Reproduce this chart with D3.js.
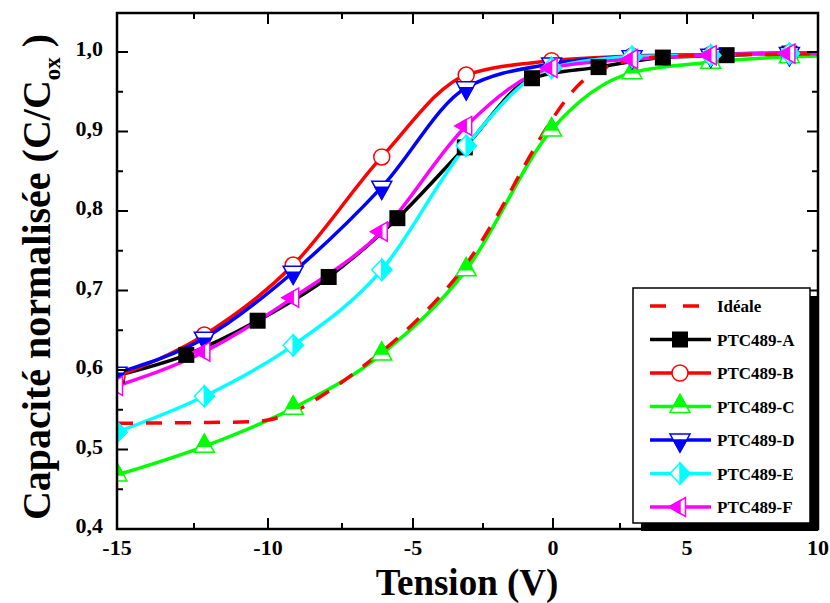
<!DOCTYPE html>
<html><head><meta charset="utf-8">
<script src="https://cdn.jsdelivr.net/npm/d3@7"></script>
<style>body{margin:0;background:#fff}svg{display:block}</style>
</head><body>
<script>
// ---------- data ----------
const seriesNames = ["Idéale","PTC489-A","PTC489-B","PTC489-C","PTC489-D","PTC489-E","PTC489-F"];
const idealV = [-15,-12,-10.5,-10,-9,-8,-7,-6,-5,-4,-3,-2,-1,0,1,2,3,4,6,8,10];
const idealC = [0.533,0.534,0.535,0.537,0.550,0.572,0.598,0.626,0.658,0.694,0.738,0.794,0.858,0.917,0.960,0.981,0.990,0.994,0.996,0.997,0.998];
const aV = [-15,-12.75,-10.35,-7.95,-5.55,-3.15,-0.75,1.7,4.1,6.5,8.9,10];
const aC = [0.593,0.619,0.662,0.717,0.791,0.880,0.967,0.981,0.993,0.996,0.998,0.998];
const commonV = [-15,-12.15,-9.15,-6.1,-3.1,-0.05,2.95,5.9,8.9,10];
const bC = [0.592,0.644,0.732,0.868,0.971,0.989,0.995,0.997,0.999,0.999];
const cC = [0.468,0.504,0.552,0.620,0.726,0.902,0.974,0.987,0.994,0.995];
const dC = [0.596,0.640,0.723,0.830,0.955,0.985,0.994,0.996,0.998,0.998];
const eC = [0.522,0.567,0.631,0.726,0.882,0.980,0.994,0.996,0.998,0.998];
const fC = [0.580,0.623,0.691,0.774,0.907,0.980,0.991,0.996,0.998,0.998];
const xTicks = [-15,-10,-5,0,5,10];
const xMinorTicks = [-12.5,-7.5,-2.5,2.5,7.5];
const yTicks = [0.4,0.5,0.6,0.7,0.8,0.9,1.0];
const yMinorTicks = [0.45,0.55,0.65,0.75,0.85,0.95];

// ---------- setup ----------
const W = 830, H = 603;
const L = 117, R = 818, T = 13, B = 529;
const svg = d3.select("body").append("svg").attr("width", W).attr("height", H);
const FONT = "'Liberation Serif', 'Times New Roman', serif";

// x axis of the original is slightly non-uniform; polylinear scale calibrated on its ticks
const x = d3.scaleLinear()
  .domain([-15,-12.5,-10,-7.5,-5,-2.5,0,2.5,5,7.5,10])
  .range([117,194,268,342,413,483,553,620,687,753,818]);
const y = d3.scaleLinear().domain([0.4, 1.0]).range([529, 52]);

svg.append("defs").append("clipPath").attr("id","plotclip")
  .append("rect").attr("x", L).attr("y", T).attr("width", R-L).attr("height", B-T);

const series = [
  {name: seriesNames[1], V: aV, C: aC, color: "#000000", sym: "square"},
  {name: seriesNames[2], V: commonV, C: bC, color: "#ff0000", sym: "circle"},
  {name: seriesNames[3], V: commonV, C: cC, color: "#00ff00", sym: "up"},
  {name: seriesNames[4], V: commonV, C: dC, color: "#0000ff", sym: "down"},
  {name: seriesNames[5], V: commonV, C: eC, color: "#00ffff", sym: "diamond"},
  {name: seriesNames[6], V: commonV, C: fC, color: "#ff00ff", sym: "left"}
];
const ideal = {name: seriesNames[0], V: idealV, C: idealC, color: "#ff0000"};

const line = d3.line().x(d => x(d[0])).y(d => y(d[1])).curve(d3.curveMonotoneX);
const plot = svg.append("g").attr("clip-path", "url(#plotclip)");

series.forEach(s => {
  plot.append("path").datum(s.V.map((v,i)=>[v, s.C[i]]))
    .attr("d", line).attr("fill","none").attr("stroke", s.color)
    .attr("stroke-width", 3.5).attr("stroke-linejoin","round");
});
plot.append("path").datum(ideal.V.map((v,i)=>[v, ideal.C[i]]))
  .attr("d", line).attr("fill","none").attr("stroke", ideal.color)
  .attr("stroke-width", 3.5).attr("stroke-dasharray","16,13");

function marker(g, sym, color) {
  const sw = 1.5;
  if (sym === "square") {
    g.append("rect").attr("x",-8).attr("y",-8).attr("width",16).attr("height",16).attr("fill",color);
  } else if (sym === "circle") {
    g.append("circle").attr("r",8).attr("fill","#fff").attr("stroke",color).attr("stroke-width",sw);
  } else if (sym === "up") {
    g.append("polygon").attr("points","0,-12 10,6 -10,6").attr("fill","#fff").attr("stroke",color).attr("stroke-width",sw);
    g.append("polygon").attr("points","0,-12 6.67,0 -6.67,0").attr("fill",color).attr("stroke",color).attr("stroke-width",sw);
  } else if (sym === "down") {
    g.append("polygon").attr("points","0,12 10,-6 -10,-6").attr("fill","#fff").attr("stroke",color).attr("stroke-width",sw);
    g.append("polygon").attr("points","0,12 6.67,0 -6.67,0").attr("fill",color).attr("stroke",color).attr("stroke-width",sw);
  } else if (sym === "diamond") {
    g.append("polygon").attr("points","0,-10.5 10,0 0,10.5 -10,0").attr("fill","#fff").attr("stroke",color).attr("stroke-width",sw);
    g.append("polygon").attr("points","0,-10.5 10,0 0,10.5").attr("fill",color).attr("stroke",color).attr("stroke-width",sw);
  } else if (sym === "left") {
    g.append("polygon").attr("points","-11,0 5.5,-9.5 5.5,9.5").attr("fill","#fff").attr("stroke",color).attr("stroke-width",sw);
    g.append("polygon").attr("points","-11,0 0,-6.33 0,6.33").attr("fill",color).attr("stroke",color).attr("stroke-width",sw);
  }
}

series.forEach(s => {
  s.V.forEach((v,i) => {
    if (v >= 10) return;
    marker(plot.append("g").attr("transform", `translate(${x(v)},${y(s.C[i])})`), s.sym, s.color);
  });
});

// ---------- axes / frame ----------
const ax = svg.append("g").attr("stroke","#000").attr("stroke-width",2);
xTicks.forEach(t => {
  ax.append("line").attr("x1",x(t)).attr("x2",x(t)).attr("y1",B).attr("y2",B-11);
  ax.append("line").attr("x1",x(t)).attr("x2",x(t)).attr("y1",T).attr("y2",T+11);
});
xMinorTicks.forEach(t => {
  ax.append("line").attr("x1",x(t)).attr("x2",x(t)).attr("y1",B).attr("y2",B-6);
  ax.append("line").attr("x1",x(t)).attr("x2",x(t)).attr("y1",T).attr("y2",T+6);
});
yTicks.forEach(t => {
  ax.append("line").attr("x1",L).attr("x2",L+11).attr("y1",y(t)).attr("y2",y(t));
  ax.append("line").attr("x1",R).attr("x2",R-11).attr("y1",y(t)).attr("y2",y(t));
});
yMinorTicks.forEach(t => {
  ax.append("line").attr("x1",L).attr("x2",L+6).attr("y1",y(t)).attr("y2",y(t));
  ax.append("line").attr("x1",R).attr("x2",R-6).attr("y1",y(t)).attr("y2",y(t));
});
svg.append("rect").attr("x",L).attr("y",T).attr("width",R-L).attr("height",B-T)
  .attr("fill","none").attr("stroke","#000").attr("stroke-width",2.5);

const fmt = v => d3.format(".1f")(v).replace(".", ",");
svg.append("g").selectAll("text").data(xTicks).join("text")
  .attr("x", d => x(d)).attr("y", 555).attr("text-anchor","middle")
  .attr("font-family",FONT).attr("font-weight","bold").attr("font-size",22)
  .text(d => String(d));
svg.append("g").selectAll("text").data(yTicks).join("text")
  .attr("x", 103).attr("y", d => y(d) + 4).attr("text-anchor","end")
  .attr("font-family",FONT).attr("font-weight","bold").attr("font-size",22)
  .text(d => fmt(d));

svg.append("text").attr("x", 467).attr("y", 595).attr("text-anchor","middle")
  .attr("font-family",FONT).attr("font-weight","bold").attr("font-size",37)
  .text("Tension (V)");

const yl = svg.append("text").attr("transform","translate(50,277) rotate(-90)")
  .attr("text-anchor","middle").attr("font-family",FONT).attr("font-weight","bold").attr("font-size",40);
yl.append("tspan").text("Capacité normalisée (C/C");
yl.append("tspan").attr("font-size",23).attr("dy",10).text("ox");
yl.append("tspan").attr("dy",-10).text(" )");

// ---------- legend ----------
svg.append("rect").attr("x",641).attr("y",296).attr("width",177).attr("height",235).attr("fill","#000");
svg.append("rect").attr("x",633).attr("y",288).attr("width",177).attr("height",235)
  .attr("fill","#fff").attr("stroke","#000").attr("stroke-width",1.5);
const legRows = [ideal].concat(series);
legRows.forEach((s,i) => {
  const ry = 306 + i*33.5;
  const g = svg.append("g");
  if (i === 0) {
    g.append("line").attr("x1",650).attr("x2",711).attr("y1",ry).attr("y2",ry)
      .attr("stroke",s.color).attr("stroke-width",3.5).attr("stroke-dasharray","16,17");
  } else {
    g.append("line").attr("x1",650).attr("x2",711).attr("y1",ry).attr("y2",ry)
      .attr("stroke",s.color).attr("stroke-width",3.5);
    marker(g.append("g").attr("transform",`translate(680,${ry})`), s.sym, s.color);
  }
  g.append("text").attr("x",717).attr("y",ry+6).attr("font-family",FONT)
    .attr("font-weight","bold").attr("font-size",17).text(s.name);
});
</script>
</body></html>
